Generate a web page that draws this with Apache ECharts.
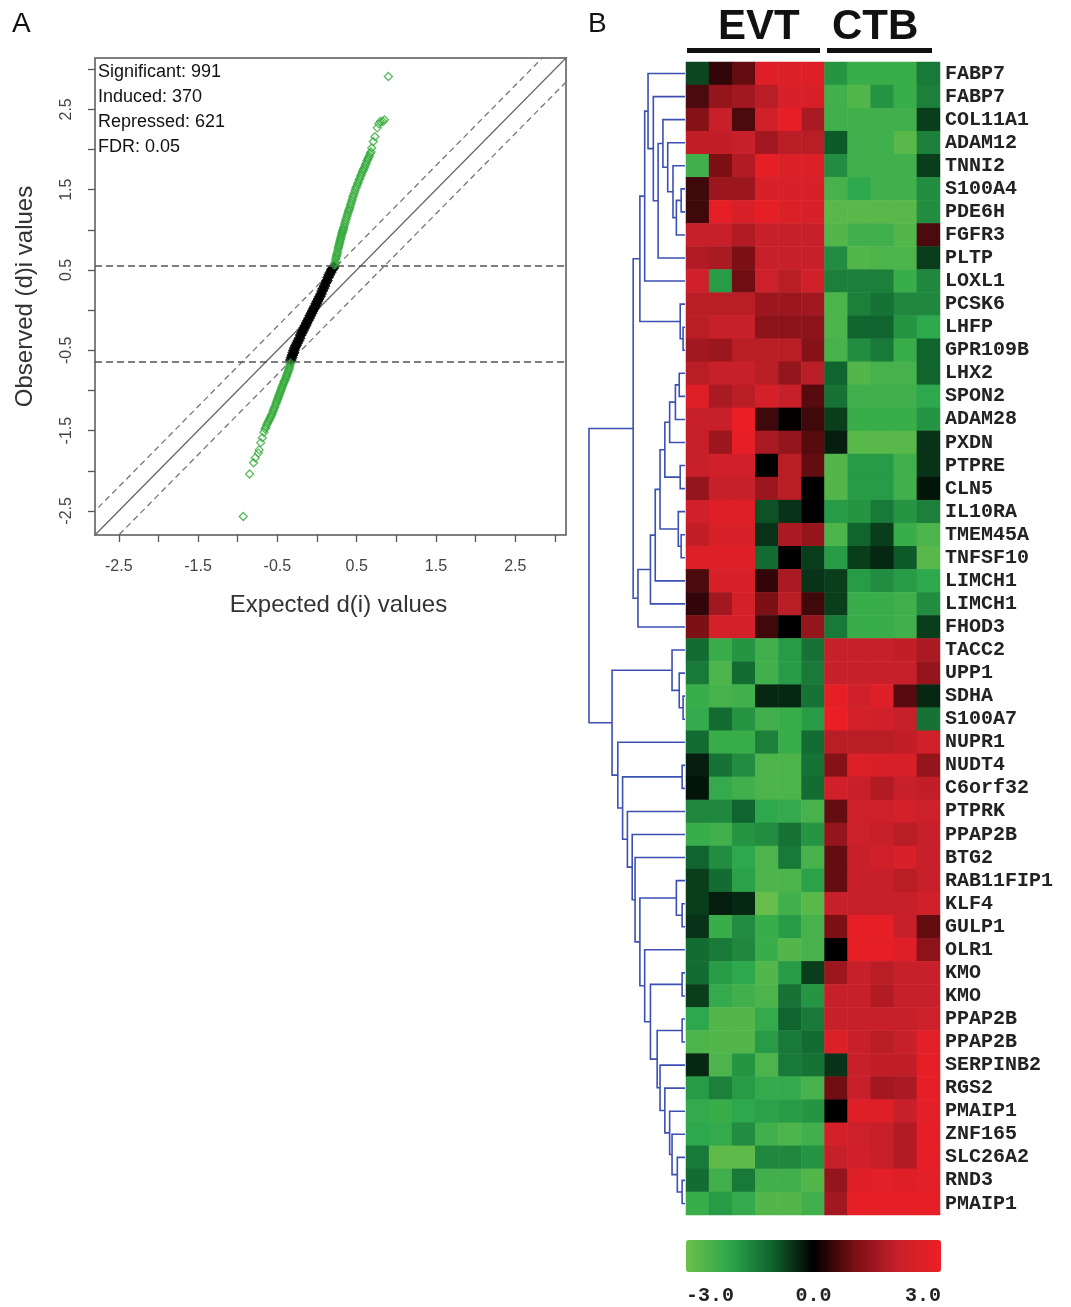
<!DOCTYPE html>
<html><head><meta charset="utf-8">
<script src="https://cdn.jsdelivr.net/npm/echarts@6.0.0/dist/echarts.min.js"></script>
<style>html,body{margin:0;padding:0;background:#fff}#c{width:1071px;height:1307px}</style>
</head><body><div id="c"></div>
<script>
// ---------- Panel B data ----------
const genes = ['FABP7','FABP7','COL11A1','ADAM12','TNNI2','S100A4','PDE6H','FGFR3','PLTP','LOXL1','PCSK6','LHFP','GPR109B','LHX2','SPON2','ADAM28','PXDN','PTPRE','CLN5','IL10RA','TMEM45A','TNFSF10','LIMCH1','LIMCH1','FHOD3',
'TACC2','UPP1','SDHA','S100A7','NUPR1','NUDT4','C6orf32','PTPRK','PPAP2B','BTG2','RAB11FIP1','KLF4','GULP1','OLR1','KMO','KMO','PPAP2B','PPAP2B','SERPINB2','RGS2','PMAIP1','ZNF165','SLC26A2','RND3','PMAIP1'];
const columns = ['EVT1','EVT2','EVT3','EVT4','EVT5','EVT6','CTB1','CTB2','CTB3','CTB4','CTB5'];
const evtValues = [
[-0.7,0.4,0.8,2.6,2.5,2.6],[0.6,1.3,1.5,1.8,2.4,2.4],[1.1,2.0,0.6,2.2,2.8,1.6],[1.9,1.9,2.0,1.5,1.8,1.8],[-2.3,1.0,1.7,2.8,2.5,2.5],
[0.5,1.4,1.4,2.4,2.4,2.4],[0.5,2.8,2.4,2.8,2.5,2.4],[2.0,2.0,1.7,2.0,2.0,2.0],[1.7,1.6,1.0,2.0,2.0,2.0],[2.2,-1.8,0.9,2.1,1.8,2.2],
[1.8,1.8,1.8,1.4,1.4,1.5],[1.8,2.0,2.0,1.2,1.2,1.2],[1.5,1.4,1.8,1.8,1.8,1.1],[1.8,2.0,2.0,1.8,1.3,1.8],[2.6,1.6,1.8,2.3,2.0,0.7],
[2.0,2.0,2.9,0.5,0.05,0.5],[2.0,1.4,2.8,1.6,1.3,0.7],[2.0,2.2,2.2,0.0,1.8,0.8],[1.3,2.0,2.0,1.4,1.8,0.0],[2.2,2.6,2.6,-0.8,-0.5,0.0],
[1.9,2.4,2.4,-0.5,1.6,1.3],[2.6,2.6,2.6,-1.1,0.0,-0.6],[0.6,2.4,2.4,0.4,1.6,-0.5],[0.4,1.5,2.3,1.0,1.8,0.5],[1.0,2.3,2.3,0.5,0.0,1.3],
[-1.1,-2.2,-1.7,-2.3,-1.8,-1.2],[-1.3,-2.5,-1.1,-2.3,-1.8,-1.3],[-2.2,-2.4,-2.3,-0.4,-0.4,-1.2],[-2.1,-1.1,-1.7,-2.3,-2.2,-1.8],[-1.1,-2.2,-2.2,-1.4,-2.2,-1.1],
[-0.3,-1.2,-1.6,-2.5,-2.5,-1.2],[-0.2,-2.1,-2.3,-2.5,-2.5,-1.1],[-1.5,-1.5,-1.0,-2.0,-2.1,-2.4],[-2.2,-2.3,-1.7,-1.6,-1.2,-1.7],[-1.0,-1.6,-2.0,-2.5,-1.3,-2.4],
[-0.6,-1.1,-1.9,-2.5,-2.5,-1.9],[-0.6,-0.3,-0.4,-2.9,-2.3,-2.7],[-0.5,-2.2,-1.6,-2.2,-1.8,-2.4],[-1.1,-1.3,-1.5,-2.2,-2.6,-2.4],[-1.1,-1.8,-2.0,-2.6,-1.8,-0.6],
[-0.6,-2.1,-2.3,-2.5,-1.2,-1.7],[-2.0,-2.6,-2.6,-2.1,-1.0,-1.3],[-2.5,-2.6,-2.6,-1.8,-1.3,-1.1],[-0.4,-2.5,-1.7,-2.5,-1.3,-1.2],[-1.8,-1.4,-1.8,-2.1,-2.1,-2.4],
[-2.1,-2.2,-2.0,-1.9,-1.8,-1.7],[-2.0,-2.1,-1.6,-2.3,-2.5,-2.3],[-1.3,-2.8,-2.8,-1.5,-1.5,-1.7],[-1.1,-2.3,-1.3,-2.3,-2.3,-2.6],[-2.2,-1.8,-2.1,-2.6,-2.6,-2.3]];
const ctbValues = [
[-1.7,-2.2,-2.2,-2.2,-1.3],[-2.3,-2.6,-1.7,-2.2,-1.4],[-2.3,-2.3,-2.3,-2.3,-0.6],[-0.9,-2.3,-2.3,-2.7,-1.4],[-1.6,-2.3,-2.3,-2.3,-0.6],
[-2.4,-2.0,-2.3,-2.3,-1.6],[-2.7,-2.7,-2.7,-2.7,-1.6],[-2.6,-2.3,-2.3,-2.6,0.6],[-1.6,-2.6,-2.5,-2.5,-0.6],[-1.4,-1.4,-1.4,-2.2,-1.5],
[-2.5,-1.4,-1.2,-1.5,-1.5],[-2.5,-1.0,-1.0,-1.7,-2.0],[-2.4,-1.6,-1.3,-2.2,-1.0],[-1.0,-2.6,-2.4,-2.4,-1.0],[-1.2,-2.3,-2.3,-2.3,-2.0],
[-0.6,-2.2,-2.2,-2.2,-1.7],[-0.3,-2.7,-2.7,-2.7,-0.5],[-2.6,-1.8,-1.8,-2.3,-0.5],[-2.6,-1.8,-1.8,-2.3,-0.2],[-1.8,-1.7,-1.3,-1.7,-1.4],
[-2.5,-1.0,-0.6,-2.2,-2.5],[-1.8,-0.6,-0.4,-0.9,-2.7],[-0.6,-1.8,-1.6,-1.8,-2.0],[-0.6,-2.2,-2.2,-2.3,-1.6],[-1.3,-2.2,-2.2,-2.3,-0.6],
[2.0,2.0,2.0,1.9,1.6],[2.0,2.0,2.0,2.0,1.3],[2.8,2.2,2.6,0.7,-0.4],[2.9,2.3,2.2,2.0,-1.2],[1.8,1.8,1.8,1.9,2.2],
[1.1,2.5,2.4,2.4,1.3],[2.2,2.0,1.7,2.0,1.9],[0.8,2.1,2.1,2.3,2.1],[1.3,2.1,2.0,1.8,2.0],[0.8,2.0,2.2,2.4,2.0],
[0.8,2.0,2.0,1.8,2.0],[2.0,2.0,2.0,2.0,2.2],[1.0,2.8,2.8,2.0,0.8],[0.0,2.8,2.8,2.6,1.2],[1.4,2.0,1.8,2.0,2.0],
[2.0,2.0,1.7,2.0,2.0],[2.0,2.0,2.0,2.0,2.1],[2.5,2.0,1.8,2.0,2.7],[-0.5,2.0,1.9,1.9,2.8],[0.9,2.0,1.5,1.6,2.8],
[0.0,2.6,2.6,2.0,2.7],[2.3,2.1,2.0,1.7,2.8],[2.0,2.2,2.0,1.7,2.8],[1.3,2.6,2.7,2.6,2.7],[1.5,2.8,2.8,2.8,2.8]];
const colorTicks = [-3, 0, 3];
// hierarchical clustering merges (R hclust style: -k = row k, +j = merge j), height
const dendroMerges = [
[-6,-7,0.04],[1,-8,0.09],[-5,2,0.125],[-4,3,0.18],[-3,4,0.23],[5,-9,0.28],[-2,6,0.33],[-1,7,0.385],[8,-10,0.42],
[-12,-13,0.02],[-11,10,0.05],[9,11,0.47],
[-14,-15,0.06],[13,-16,0.10],[14,-17,0.16],[-18,-19,0.05],[15,16,0.21],[-21,-22,0.04],[-20,18,0.07],[17,19,0.26],
[20,-23,0.31],[21,-24,0.36],[22,-25,0.49],[12,23,0.54],
[-28,-29,0.02],[-27,25,0.06],[-26,26,0.135],
[-49,-50,0.03],[-48,28,0.08],[-47,29,0.135],[-46,30,0.16],[-45,31,0.21],[-44,32,0.26],
[-42,-43,0.03],[34,33,0.29],[-40,-41,0.03],[36,35,0.36],[-39,37,0.42],[-37,-38,0.03],[-36,39,0.09],[40,38,0.47],
[-35,41,0.52],[-34,42,0.55],[-33,43,0.60],[-31,-32,0.03],[45,44,0.65],[-30,46,0.70],[27,47,0.76],[24,48,1.0]];

// ---------- Panel A data ----------
const samBlack = [[-0.33,-0.62],[-0.32,-0.59],[-0.31,-0.56],[-0.30,-0.53],[-0.29,-0.50],[-0.28,-0.47],[-0.265,-0.44],[-0.25,-0.41],[-0.235,-0.38],[-0.22,-0.35],[-0.205,-0.31],[-0.19,-0.28],[-0.175,-0.25],[-0.16,-0.22],[-0.145,-0.19],[-0.13,-0.16],[-0.115,-0.13],[-0.10,-0.10],[-0.085,-0.07],[-0.07,-0.04],[-0.055,-0.01],[-0.04,0.02],[-0.025,0.05],[-0.01,0.08],[0.005,0.11],[0.02,0.14],[0.035,0.17],[0.05,0.20],[0.065,0.24],[0.08,0.27],[0.095,0.30],[0.11,0.34],[0.125,0.37],[0.14,0.41],[0.155,0.44],[0.17,0.47],[0.185,0.50],[0.20,0.52],[0.21,0.54]];
const samInduced = [[0.22,0.56],[0.225,0.58],[0.23,0.60],[0.235,0.63],[0.24,0.65],[0.245,0.67],[0.25,0.69],[0.255,0.71],[0.26,0.73],[0.265,0.76],[0.27,0.78],[0.275,0.80],[0.28,0.82],[0.285,0.84],[0.29,0.86],[0.295,0.88],[0.30,0.90],[0.305,0.92],[0.31,0.94],[0.315,0.96],[0.32,0.97],[0.325,0.99],[0.33,1.00],[0.335,1.02],[0.34,1.04],[0.348,1.07],[0.355,1.09],[0.362,1.12],[0.37,1.14],[0.378,1.17],[0.385,1.19],[0.392,1.22],[0.40,1.24],[0.408,1.26],[0.415,1.28],[0.422,1.31],[0.43,1.33],[0.438,1.36],[0.445,1.38],[0.452,1.41],[0.46,1.43],[0.47,1.46],[0.48,1.49],[0.49,1.52],[0.50,1.54],[0.51,1.57],[0.52,1.59],[0.53,1.62],[0.54,1.64],[0.55,1.67],[0.56,1.69],[0.57,1.72],[0.58,1.74],[0.59,1.76],[0.60,1.78],[0.61,1.81],[0.62,1.83],[0.63,1.86],[0.64,1.88],[0.65,1.90],[0.66,1.92],[0.67,1.95],[0.68,1.97],[0.69,2.02],
[0.71,2.10],[0.73,2.16],[0.76,2.27],[0.78,2.32],[0.80,2.35],[0.83,2.35],[0.85,2.37],[0.90,2.91]];
const samRepressed = [[-0.335,-0.66],[-0.34,-0.68],[-0.345,-0.70],[-0.35,-0.72],[-0.355,-0.74],[-0.362,-0.76],[-0.37,-0.78],[-0.378,-0.80],[-0.385,-0.82],[-0.392,-0.84],[-0.40,-0.86],[-0.408,-0.88],[-0.415,-0.89],[-0.422,-0.91],[-0.43,-0.93],[-0.438,-0.95],[-0.445,-0.97],[-0.452,-0.99],[-0.46,-1.01],[-0.468,-1.03],[-0.475,-1.05],[-0.482,-1.07],[-0.49,-1.09],[-0.498,-1.11],[-0.505,-1.13],[-0.512,-1.15],[-0.52,-1.17],[-0.53,-1.20],[-0.54,-1.22],[-0.548,-1.24],[-0.555,-1.26],[-0.565,-1.29],[-0.575,-1.31],[-0.585,-1.33],[-0.595,-1.35],[-0.605,-1.37],[-0.615,-1.39],[-0.625,-1.41],[-0.635,-1.43],[-0.645,-1.46],[-0.655,-1.48],[-0.67,-1.52],
[-0.69,-1.59],[-0.71,-1.65],[-0.73,-1.74],[-0.74,-1.78],[-0.78,-1.84],[-0.80,-1.90],[-0.85,-2.04],[-0.93,-2.57]];
const samDelta = 0.3;
const samCutoffs = [0.55, -0.64];
const samTicks = [-2.5,-2,-1.5,-1,-0.5,0,0.5,1,1.5,2,2.5,3];
const samTickLabels = [-2.5,-1.5,-0.5,0.5,1.5,2.5];
const samStats = ['Significant: 991','Induced: 370','Repressed: 621','FDR: 0.05'];

// ---------- build ----------
const heatData = [];
for (let r = 0; r < genes.length; r++) {
  evtValues[r].forEach((v, c) => heatData.push([c, r, v]));
  ctbValues[r].forEach((v, c) => heatData.push([evtValues[r].length + c, r, v]));
}
const nodes = [];
const info = ref => ref < 0 ? {y: -ref - 1, h: 0} : nodes[ref - 1];
const dendroData = dendroMerges.map(([a, b, h]) => {
  const A = info(a), B = info(b);
  nodes.push({y: (A.y + B.y) / 2, h});
  return [h, A.h, A.y, B.h, B.y];
});
const lim = [-2.8, 3.14];
const ext = [-4, 4];
const sansF = 'Liberation Sans';
const monoF = 'Liberation Mono';

const chart = echarts.init(document.getElementById('c'));
chart.setOption({
  backgroundColor: '#ffffff',
  animation: false,
  grid: [
    {left: 95, top: 58, width: 471, height: 477, show: true, borderColor: '#555', borderWidth: 1.5, backgroundColor: 'transparent'},
    {left: 589, top: 62, width: 96, height: 1153},
    {left: 686, top: 62, width: 254, height: 1153},
    {left: 686, top: 1240, width: 255, height: 32}
  ],
  xAxis: [
    {gridIndex: 0, type: 'value', min: lim[0], max: lim[1], position: 'bottom', axisLine: {show: false, onZero: false}, splitLine: {show: false},
     axisTick: {show: true, length: 7, customValues: samTicks, lineStyle: {color: '#555', width: 1.3}},
     axisLabel: {customValues: samTickLabels, color: '#444', fontSize: 16, fontFamily: sansF, margin: 24, formatter: v => v.toFixed(1)},
     name: 'Expected d(i) values', nameLocation: 'middle', nameGap: 58, nameTextStyle: {fontSize: 24, color: '#333', fontFamily: sansF, padding: [0, 0, 0, 16]}},
    {gridIndex: 1, type: 'value', min: 0, max: 1, inverse: true, show: false},
    {gridIndex: 2, type: 'category', data: columns, show: false},
    {gridIndex: 3, type: 'value', min: -3, max: 3, axisLine: {show: false, onZero: false}, axisTick: {show: false}, splitLine: {show: false},
     axisLabel: {customValues: colorTicks, formatter: v => v.toFixed(1), fontFamily: monoF, fontWeight: 'bold', fontSize: 20, color: '#222', margin: 14, alignMinLabel: 'left', alignMaxLabel: 'right'}}
  ],
  yAxis: [
    {gridIndex: 0, type: 'value', min: lim[0], max: lim[1], position: 'left', axisLine: {show: false, onZero: false}, splitLine: {show: false},
     axisTick: {show: true, length: 7, customValues: samTicks, lineStyle: {color: '#555', width: 1.3}},
     axisLabel: {customValues: samTickLabels, color: '#444', fontSize: 16, fontFamily: sansF, margin: 20, rotate: 90, formatter: v => v.toFixed(1)},
     name: 'Observed (d)i values', nameLocation: 'middle', nameGap: 58, nameTextStyle: {fontSize: 24, color: '#333', fontFamily: sansF}},
    {gridIndex: 1, type: 'value', min: -0.5, max: genes.length - 0.5, inverse: true, show: false},
    {gridIndex: 2, type: 'category', data: genes, inverse: true, position: 'right', axisLine: {show: false}, axisTick: {show: false},
     axisLabel: {interval: 0, fontFamily: monoF, fontWeight: 'bold', fontSize: 20, color: '#222', margin: 5}},
    {gridIndex: 3, type: 'value', show: false, min: 0, max: 1}
  ],
  visualMap: {
    type: 'continuous', seriesIndex: 5, min: -3, max: 3, orient: 'horizontal', left: 686, top: 1240,
    itemWidth: 32, itemHeight: 255, calculable: false, padding: 0, text: null, hoverLink: false,
    inRange: {color: ['#6cbf49', '#2ea84c', '#10652f', '#000000', '#7d1015', '#c8202a', '#ee1f26']}
  },
  graphic: [
    {type: 'text', left: 12, top: 10, style: {text: 'A', fontSize: 28, fontFamily: sansF, fill: '#111'}},
    {type: 'text', left: 588, top: 10, style: {text: 'B', fontSize: 28, fontFamily: sansF, fill: '#111'}},
    {type: 'text', left: 718, top: 6, style: {text: 'EVT', fontSize: 42, fontWeight: 'bold', fontFamily: sansF, fill: '#111'}},
    {type: 'text', left: 832, top: 6, style: {text: 'CTB', fontSize: 42, fontWeight: 'bold', fontFamily: sansF, fill: '#111'}},
    {type: 'rect', shape: {x: 687, y: 48, width: 133, height: 5}, style: {fill: '#111'}},
    {type: 'rect', shape: {x: 827, y: 48, width: 105, height: 5}, style: {fill: '#111'}},
    ...samStats.map((t, i) => ({type: 'text', left: 98, top: 63 + i * 25, style: {text: t, fontSize: 18, fontFamily: sansF, fill: '#111'}}))
  ],
  series: [
    {type: 'line', xAxisIndex: 0, yAxisIndex: 0, data: [[ext[0], ext[0]], [ext[1], ext[1]]], symbol: 'none', silent: true,
     lineStyle: {color: '#666', width: 1.3}, z: 2,
     markLine: {silent: true, symbol: 'none', label: {show: false}, lineStyle: {color: '#555', width: 1.6, type: [7, 4]},
       data: samCutoffs.map(v => ({yAxis: v}))}},
    {type: 'line', xAxisIndex: 0, yAxisIndex: 0, data: [[ext[0], ext[0] + samDelta], [ext[1], ext[1] + samDelta]], symbol: 'none', silent: true,
     lineStyle: {color: '#777', width: 1.3, type: [6, 4]}, z: 2},
    {type: 'line', xAxisIndex: 0, yAxisIndex: 0, data: [[ext[0], ext[0] - samDelta], [ext[1], ext[1] - samDelta]], symbol: 'none', silent: true,
     lineStyle: {color: '#777', width: 1.3, type: [6, 4]}, z: 2},
    {type: 'scatter', name: 'Not significant', xAxisIndex: 0, yAxisIndex: 0, data: samBlack, symbol: 'diamond', symbolSize: 11,
     itemStyle: {color: '#000', borderColor: '#000', borderWidth: 1}, z: 4},
    {type: 'scatter', name: 'Significant', xAxisIndex: 0, yAxisIndex: 0, data: samInduced.concat(samRepressed), symbol: 'diamond', symbolSize: 8,
     itemStyle: {color: 'rgba(0,0,0,0)', borderColor: '#33aa3a', borderWidth: 1.3}, z: 4},
    {type: 'heatmap', xAxisIndex: 2, yAxisIndex: 2, data: heatData, progressive: 0, itemStyle: {borderWidth: 0}},
    {type: 'custom', coordinateSystem: 'cartesian2d', xAxisIndex: 1, yAxisIndex: 1, data: dendroData, silent: true,
     encode: {x: [0, 1, 3], y: [2, 4]},
     renderItem: (params, api) => {
       const h = api.value(0), ha = api.value(1), ya = api.value(2), hb = api.value(3), yb = api.value(4);
       return {type: 'polyline', shape: {points: [api.coord([ha, ya]), api.coord([h, ya]), api.coord([h, yb]), api.coord([hb, yb])]},
         style: {stroke: '#3c50b4', lineWidth: 1.6, fill: 'none'}};
     }}
  ]
});
</script></body></html>
